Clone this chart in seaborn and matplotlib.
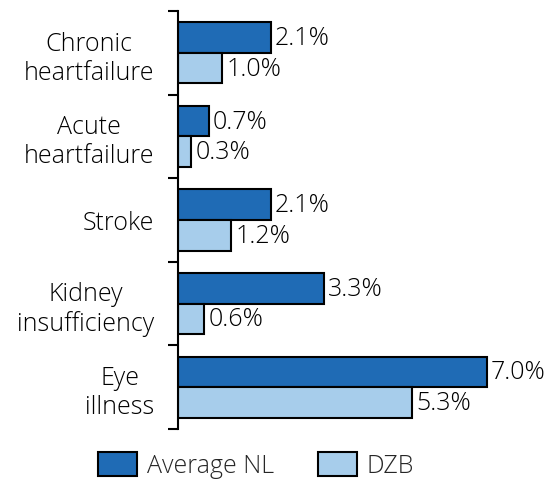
import numpy as np
import pandas as pd
import matplotlib.pyplot as plt
import seaborn as sns
from matplotlib.ticker import FixedLocator

categories = ["Chronic\nheartfailure", "Acute\nheartfailure", "Stroke",
              "Kidney\ninsufficiency", "Eye\nillness"]
avg_nl = [2.1, 0.7, 2.1, 3.3, 7.0]
dzb = [1.0, 0.3, 1.2, 0.6, 5.3]
series = ["Average NL", "DZB"]
colors = ["#1f6bb5", "#a7cdeb"]

df = pd.DataFrame({
    "category": categories * 2,
    "value": avg_nl + dzb,
    "series": [series[0]] * len(categories) + [series[1]] * len(categories),
})

sns.set_theme(style="white")
plt.rcParams["font.family"] = ["Open Sans", "DejaVu Sans"]
plt.rcParams["font.weight"] = "light"
FS = 18

fig = plt.figure(figsize=(5.57, 4.85), dpi=100)
ax = fig.add_axes([178 / 557, 1 - 430 / 485, 375 / 557, 418 / 485])

sns.barplot(data=df, y="category", x="value", hue="series", orient="h",
            palette=colors, saturation=1, width=0.73, edgecolor="black",
            linewidth=1.5, ax=ax, legend=False)

for cont in ax.containers:
    ax.bar_label(cont, fmt="%.1f%%", padding=3, fontsize=FS, color="black")

ax.set_xlim(0, 8.5)
ax.set_ylim(len(categories) - 0.5, -0.5)
ax.set_xlabel("")
ax.set_ylabel("")
ax.set_xticks([])

# labels at centres, ticks at group boundaries
ax.set_yticks(range(len(categories)))
ax.set_yticklabels(categories, fontsize=FS, color="black", multialignment="center")
ax.tick_params(axis="y", which="major", length=0, pad=17)
ax.yaxis.set_minor_locator(FixedLocator(np.arange(-0.5, len(categories), 1)))
ax.tick_params(axis="y", which="minor", left=True, length=7, width=1.5, color="black")

for s in ["top", "right", "bottom"]:
    ax.spines[s].set_visible(False)
ax.spines["left"].set_linewidth(1.5)
ax.spines["left"].set_color("black")

handles = [plt.Rectangle((0, 0), 1, 1, facecolor=c, edgecolor="black", linewidth=1.5)
           for c in colors]
fig.legend(handles, series, loc="lower center", bbox_to_anchor=(0.46, -0.035), ncol=2,
           frameon=False, fontsize=FS, handlelength=1.55, handleheight=1.05,
           columnspacing=1.75, handletextpad=0.4)

fig.savefig("out.png", dpi=100)
